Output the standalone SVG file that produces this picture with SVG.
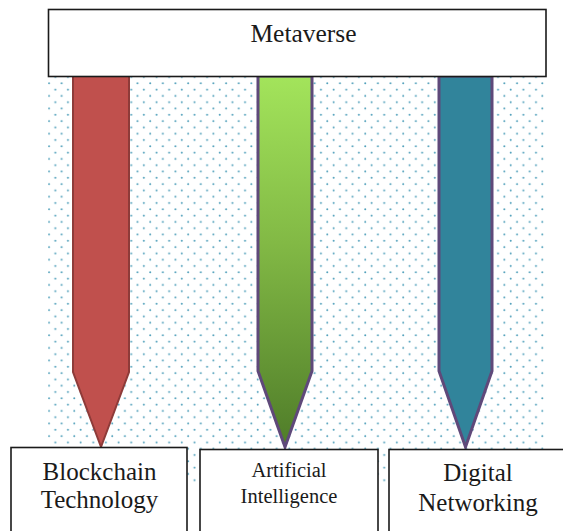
<svg xmlns="http://www.w3.org/2000/svg" width="563" height="531" viewBox="0 0 563 531">
<defs>
<pattern id="dots" patternUnits="userSpaceOnUse" x="45.85" y="80.15" width="12.65" height="12.6">
<circle cx="3.15" cy="3.15" r="1" fill="#4f9fba"/>
<circle cx="9.47" cy="9.45" r="1" fill="#4f9fba"/>
</pattern>
<linearGradient id="greenGrad" x1="0" y1="0" x2="0" y2="1">
<stop offset="0" stop-color="#a3e45b"/>
<stop offset="0.45" stop-color="#82b945"/>
<stop offset="1" stop-color="#4f7c29"/>
</linearGradient>
</defs>
<style>
.box{fill:#ffffff;stroke:#1a1a1a;stroke-width:1.6}
.lbl{font-family:"Liberation Serif","Times New Roman",serif;fill:#1a1a1a;text-anchor:middle}
</style>
<rect x="48" y="77" width="499" height="408" fill="url(#dots)"/>
<g id="connectors">
<path id="arrow-blockchain" d="M73,76 L129,76 L129,372 L101,447 L73,372 Z" fill="#c0504d" stroke="#8e3b39" stroke-width="2"/>
<path id="arrow-ai" d="M258,76 L312,76 L312,371 L285,447 L258,371 Z" fill="url(#greenGrad)" stroke="#5f497a" stroke-width="3"/>
<path id="arrow-dn" d="M439,76 L492,76 L492,371 L465.5,447 L439,371 Z" fill="#31849b" stroke="#5f497a" stroke-width="3"/>
</g>
<g id="metaverse">
<rect class="box" x="48.5" y="9.5" width="497.5" height="67"/>
<text class="lbl" x="303.5" y="42" font-size="25.5">Metaverse</text>
</g>
<g id="blockchain">
<rect class="box" x="11" y="447.5" width="176" height="95"/>
<text class="lbl" x="99.5" y="480" font-size="25">Blockchain</text>
<text class="lbl" x="99.5" y="508" font-size="25">Technology</text>
</g>
<g id="ai">
<rect class="box" x="200" y="449.5" width="178" height="95"/>
<text class="lbl" x="289" y="477" font-size="20.5">Artificial</text>
<text class="lbl" x="289" y="503" font-size="20.5">Intelligence</text>
</g>
<g id="digital">
<rect class="box" x="389" y="449.5" width="185" height="95"/>
<text class="lbl" x="478" y="481" font-size="25">Digital</text>
<text class="lbl" x="478" y="510.5" font-size="25">Networking</text>
</g>
</svg>
